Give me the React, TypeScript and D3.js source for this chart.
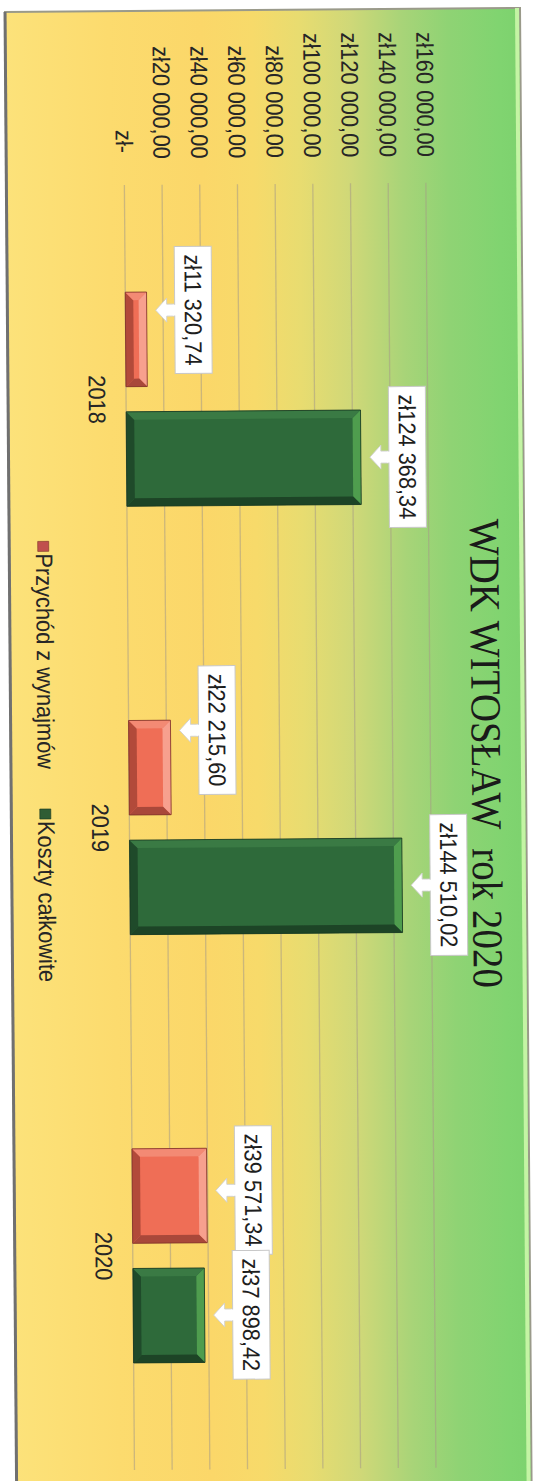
import React, { useEffect, useRef } from 'react';
import * as d3 from 'd3';

// ---------- data ----------
const years: string[] = ['2018', '2019', '2020'];
const seriesNames: string[] = ['Przychód z wynajmów', 'Koszty całkowite'];
const przychod: number[] = [11320.74, 22215.6, 39571.34];
const koszty: number[] = [124368.34, 144510.02, 37898.42];
const tickValues: number[] = [0, 20000, 40000, 60000, 80000, 100000, 120000, 140000, 160000];
const titleText = 'WDK WITOSŁAW  rok 2020';
// label placement nudges (along category axis) for red labels, as auto-placed in original
const labelShiftRed: number[] = [-29, -37, -5];
const labelShiftGreen: number[] = [0, 0, 0];

const locale = d3.formatLocale({ decimal: ',', thousands: ' ', grouping: [3], currency: ['zł', ''] });
const num = locale.format(',.2f');
const fmtMoney = (v: number) => (v === 0 ? 'zł-\u00A0' : 'zł' + num(v));

const SANS = "'Liberation Sans', Arial, sans-serif";
const SERIF = "'Liberation Serif', 'Times New Roman', serif";
const FS = 21.8;
const STRETCH = 1.1;

const palette = {
  red: { face: '#ef6e56', top: '#f7a08e', left: '#f38a74', right: '#a9483a', bottom: '#b24a3a', outline: '#7a3026', legend: '#c0504d' },
  green: { face: '#2e6a3a', top: '#4f9d4e', left: '#3a7a44', right: '#1d4426', bottom: '#1f4a2a', outline: '#163620', legend: '#2f5d34' },
};

export default function App() {
  const ref = useRef<SVGSVGElement>(null);

  useEffect(() => {
    const svg = d3.select(ref.current as SVGSVGElement);
    svg.selectAll('*').remove();

    const W = 1474; // chart frame length (along categories)
    const H = 515; // chart frame height (along values)

    const defs = svg.append('defs');
    const grad = defs.append('linearGradient').attr('id', 'bg').attr('x1', 0).attr('y1', 0).attr('x2', 0).attr('y2', 1);
    const stops: [number, string][] = [
      [0, '#7dd26e'], [0.04, '#80d470'], [0.14, '#8fd374'], [0.23, '#a8d478'], [0.33, '#cfd878'],
      [0.43, '#e8dc70'], [0.52, '#f7da6a'], [0.62, '#fbd769'], [0.8, '#fcdb6e'], [1, '#fce27a'],
    ];
    stops.forEach(([o, c]) => grad.append('stop').attr('offset', o).attr('stop-color', c));

    const g = svg.append('g').attr('transform', 'translate(520,8) rotate(89.55)');

    // frame
    g.append('rect').attr('x', 0).attr('y', 0).attr('width', W).attr('height', H).attr('fill', 'url(#bg)')
      .attr('stroke', '#9a9a8a').attr('stroke-width', 2);
    g.append('line').attr('x1', 0).attr('x2', W).attr('y1', 3).attr('y2', 3).attr('stroke', '#c4f4a4').attr('stroke-width', 4);
    g.append('line').attr('x1', 0).attr('x2', W).attr('y1', H).attr('y2', H).attr('stroke', '#707070').attr('stroke-width', 3);

    // scales
    const x0 = d3.scaleBand<string>().domain(years).range([174, 1459]).paddingInner(0.5).paddingOuter(0.25);
    const x1 = d3.scaleBand<string>().domain(seriesNames).range([0, x0.bandwidth()]).paddingInner(0.21);
    const y = d3.scaleLinear().domain([0, 160000]).range([397, 95.5]);

    // gridlines
    g.append('g').selectAll('line').data(tickValues).join('line')
      .attr('x1', 174).attr('x2', 1459)
      .attr('y1', (d) => y(d)).attr('y2', (d) => y(d))
      .attr('stroke', 'rgba(165,155,135,0.55)').attr('stroke-width', 1.3);

    // tick labels
    g.append('g').selectAll('text').data(tickValues).join('text')
      .attr('transform', (d) => `translate(148,${y(d)}) scale(1,${STRETCH})`)
      .attr('text-anchor', 'end').attr('dy', '0.35em')
      .attr('font-family', SANS).attr('font-size', FS).attr('fill', '#262626')
      .style('white-space', 'pre')
      .text((d) => fmtMoney(d));

    // category labels
    g.append('g').selectAll('text').data(years).join('text')
      .attr('transform', (d) => `translate(${(x0(d) as number) + x0.bandwidth() / 2},426) scale(1,${STRETCH})`)
      .attr('text-anchor', 'middle').attr('dy', '0.35em')
      .attr('font-family', SANS).attr('font-size', FS).attr('fill', '#262626')
      .text((d) => d);

    // bars
    const drawBar = (parent: any, x: number, top: number, w: number, h: number, c: any) => {
      const b = Math.min(8, h / 2.5, w / 2.5);
      const bg = parent.append('g');
      bg.append('rect').attr('x', x).attr('y', top).attr('width', w).attr('height', h).attr('fill', c.face);
      const poly = (pts: number[][], fill: string) =>
        bg.append('polygon').attr('points', pts.map((p) => p.join(',')).join(' ')).attr('fill', fill);
      poly([[x, top], [x + w, top], [x + w - b, top + b], [x + b, top + b]], c.top);
      poly([[x, top + h], [x + w, top + h], [x + w - b, top + h - b], [x + b, top + h - b]], c.bottom);
      poly([[x, top], [x + b, top + b], [x + b, top + h - b], [x, top + h]], c.left);
      poly([[x + w, top], [x + w - b, top + b], [x + w - b, top + h - b], [x + w, top + h]], c.right);
      bg.append('rect').attr('x', x).attr('y', top).attr('width', w).attr('height', h)
        .attr('fill', 'none').attr('stroke', c.outline).attr('stroke-width', 0.8);
    };

    const series = [
      { name: seriesNames[0], values: przychod, color: palette.red, shift: labelShiftRed },
      { name: seriesNames[1], values: koszty, color: palette.green, shift: labelShiftGreen },
    ];

    const barsG = g.append('g');
    const labelsG = g.append('g');
    series.forEach((s) => {
      s.values.forEach((v, i) => {
        const bx = (x0(years[i]) as number) + (x1(s.name) as number);
        const bw = x1.bandwidth();
        const top = y(v);
        drawBar(barsG, bx, top, bw, y(0) - top, s.color);
      });
    });

    // data labels (drawn after all bars)
    series.forEach((s) => {
      s.values.forEach((v, i) => {
        const bx = (x0(years[i]) as number) + (x1(s.name) as number);
        const bw = x1.bandwidth();
        const top = y(v);
        const cx = bx + bw / 2 + s.shift[i];
        const boxH = 37;
        const boxBottom = top - 28;
        const lg = labelsG.append('g');
        // pointer (block arrow towards the bar)
        const sw = 6, hw = 12, stem = 8, tip = 19;
        const pts = [
          [cx - sw, boxBottom - 2], [cx - sw, boxBottom + stem], [cx - hw, boxBottom + stem],
          [cx, boxBottom + tip], [cx + hw, boxBottom + stem], [cx + sw, boxBottom + stem], [cx + sw, boxBottom - 2],
        ];
        lg.append('polygon').attr('points', pts.map((p) => p.join(',')).join(' '))
          .attr('fill', '#ffffff').attr('stroke', '#cfcfcf').attr('stroke-width', 0.9);
        const rect = lg.append('rect');
        const txt = lg.append('text')
          .attr('transform', `translate(${cx},${boxBottom - boxH / 2}) scale(1,${STRETCH})`)
          .attr('text-anchor', 'middle').attr('dy', '0.35em')
          .attr('font-family', SANS).attr('font-size', FS).attr('fill', '#1e1e1e')
          .text(fmtMoney(v));
        const L = (txt.node() as SVGTextElement).getComputedTextLength();
        const boxW = L + 16;
        rect.attr('x', cx - boxW / 2).attr('y', boxBottom - boxH)
          .attr('width', boxW).attr('height', boxH)
          .attr('fill', '#ffffff').attr('stroke', '#c8c8c8').attr('stroke-width', 1);
        // cover seam between box and pointer
        lg.insert('rect', 'text').attr('x', cx - sw + 0.6).attr('y', boxBottom - 1.5)
          .attr('width', 2 * sw - 1.2).attr('height', 3.5).attr('fill', '#fff');
      });
    });

    // legend
    const legG = g.append('g');
    const marker = 10;
    const gap = 2;
    const itemGap = 40;
    const legendV = 481;
    const widths: number[] = [];
    const tmp = series.map((s) => {
      const t = legG.append('text')
        .attr('font-family', SANS).attr('font-size', FS).attr('fill', '#262626')
        .attr('text-anchor', 'start').attr('dy', '0.35em')
        .text(s.name);
      widths.push((t.node() as SVGTextElement).getComputedTextLength());
      return t;
    });
    const total = widths.reduce((a, w) => a + marker + gap + w, 0) + itemGap * (series.length - 1);
    let cur = 750 - total / 2;
    series.forEach((s, i) => {
      legG.append('rect').attr('x', cur).attr('y', legendV - 5.5).attr('width', marker).attr('height', 11)
        .attr('fill', s.color.legend).attr('stroke', s.color.outline).attr('stroke-width', 0.6);
      tmp[i].attr('transform', `translate(${cur + marker + gap},${legendV - 1}) scale(1,${STRETCH})`);
      cur += marker + gap + widths[i] + itemGap;
    });

    // title
    g.append('text')
      .attr('transform', `translate(745,54) scale(1,${STRETCH})`)
      .attr('text-anchor', 'middle')
      .attr('font-family', SERIF).attr('font-size', 39).attr('fill', '#1a1a1a')
      .style('white-space', 'pre')
      .text(titleText);
  }, []);

  return (
    <svg
      ref={ref}
      width={540}
      height={1481}
      style={{ position: 'absolute', left: 0, top: 0, background: '#ffffff' }}
    />
  );
}
